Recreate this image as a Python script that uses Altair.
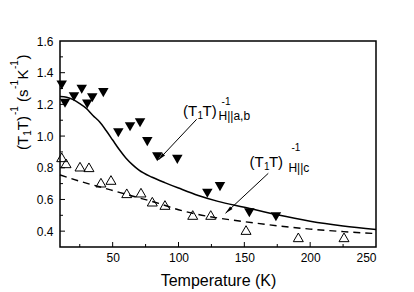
import altair as alt
import pandas as pd

# ---------------- data ----------------
ab_T = [11.3, 13.8, 20.6, 26.5, 30.7, 34.5, 42.9, 54.3, 63.2, 70.8, 76.3, 83.9, 99.1, 121.9, 131.5, 153.8, 174.0]
ab_val = [1.322, 1.207, 1.248, 1.295, 1.202, 1.242, 1.274, 1.021, 1.059, 1.084, 0.965, 0.870, 0.853, 0.639, 0.681, 0.516, 0.491]

c_T = [11.3, 14.6, 25.2, 32.0, 41.1, 48.7, 60.7, 71.5, 80.1, 89.7, 110.8, 124.5, 151.3, 191.0, 225.7]
c_val = [0.866, 0.828, 0.807, 0.803, 0.706, 0.723, 0.639, 0.643, 0.586, 0.565, 0.502, 0.502, 0.407, 0.361, 0.361]

fit_ab_T = [10, 15, 20, 25, 30, 35, 40, 45, 50, 55, 60, 65, 70, 80, 90, 100, 115, 130, 150, 175, 200, 225, 250]
fit_ab_val = [1.25, 1.245, 1.23, 1.205, 1.175, 1.13, 1.09, 1.035, 0.975, 0.915, 0.862, 0.82, 0.785, 0.74, 0.705, 0.672, 0.625, 0.588, 0.551, 0.503, 0.463, 0.433, 0.41]

fit_c_T = [10, 25, 40, 55, 70, 85, 100, 115, 130, 150, 175, 200, 225, 250]
fit_c_val = [0.755, 0.715, 0.68, 0.645, 0.61, 0.575, 0.535, 0.505, 0.483, 0.46, 0.434, 0.413, 0.397, 0.385]

x_label_values = [50, 100, 150, 200, 250]
y_label_values = [0.4, 0.6, 0.8, 1.0, 1.2, 1.4, 1.6]
x_major_ticks = [50, 100, 150, 200]
x_minor_ticks = [25, 75, 125, 175, 225]
y_major_ticks = [0.4, 0.6, 0.8, 1.0, 1.2, 1.4]
y_minor_ticks = [0.5, 0.7, 0.9, 1.1, 1.3, 1.5]

# annotation text pieces (data coordinates)
ann_text = ["(T", "1", "T)", "-1", "H||a,b", "(T", "1", "T)", "-1", "H||c"]
ann_x = [103.4, 114.4, 118.2, 132.7, 130.4, 153.9, 164.9, 168.7, 185.8, 183.5]
ann_y = [1.127, 1.108, 1.127, 1.196, 1.101, 0.805, 0.786, 0.805, 0.903, 0.776]
ann_fs = [15, 10, 15, 10, 12, 15, 10, 15, 10, 12]

# arrows (data coordinates)
arr_x1 = [113.8, 168.2]
arr_y1 = [1.106, 0.765]
arr_x2 = [84.7, 135.7]
arr_y2 = [0.849, 0.513]
head_x = [86.7, 137.9]
head_y = [0.867, 0.530]
head_ang = [223.3, 226.3]

# y title pieces
ytitle_text = ["(T", "1", "T)", "-1", "(s", "-1", "K", "-1", ")"]
ytitle_fs = [15, 10, 15, 10, 15, 10, 15, 10, 15]
ytitle_kind = ["m", "sub", "m", "sup", "m", "sup", "m", "sup", "m"]
ytitle_pos = [109, 94.8, 89.2, 74, 60.9, 47.9, 38.5, 28, 18.6]

FONT = "Liberation Sans"
W, H = 316, 206

xs = alt.Scale(domain=[10, 250], nice=False, zero=False)
ys = alt.Scale(domain=[0.3, 1.6], nice=False, zero=False)

x_axis = alt.Axis(values=x_label_values, tickSize=0, domain=False, grid=False,
                  labelFont=FONT, labelFontSize=12, labelColor="black", labelPadding=5,
                  title="Temperature (K)", titleFont=FONT, titleFontSize=16,
                  titleFontWeight="normal", titleColor="black",
                  titleY=38, titleBaseline="alphabetic")
y_axis = alt.Axis(values=y_label_values, tickSize=0, domain=False, grid=False,
                  labelFont=FONT, labelFontSize=12, labelColor="black", labelPadding=7,
                  format=".1f", title=None)


def X(field):
    return alt.X(f"{field}:Q", scale=xs, axis=x_axis)


def Y(field):
    return alt.Y(f"{field}:Q", scale=ys, axis=y_axis)


df_ab = pd.DataFrame({"T": ab_T, "v": ab_val})
df_c = pd.DataFrame({"T": c_T, "v": c_val})
df_fab = pd.DataFrame({"T": fit_ab_T, "v": fit_ab_val})
df_fc = pd.DataFrame({"T": fit_c_T, "v": fit_c_val})

fit_ab = alt.Chart(df_fab).mark_line(color="black", strokeWidth=1.5, interpolate="monotone").encode(
    x=X("T"), y=Y("v"))
fit_c = alt.Chart(df_fc).mark_line(color="black", strokeWidth=1.4, strokeDash=[7, 5],
                                   interpolate="monotone").encode(x=X("T"), y=Y("v"))
pts_ab = alt.Chart(df_ab).mark_point(shape="triangle-down", filled=True, color="black",
                                     size=110, opacity=1).encode(x=X("T"), y=Y("v"))
pts_c = alt.Chart(df_c).mark_point(shape="triangle-up", filled=False, color="black",
                                   size=100, strokeWidth=1, opacity=1).encode(x=X("T"), y=Y("v"))

df_ann = pd.DataFrame({"x": ann_x, "y": ann_y, "t": ann_text, "fs": ann_fs})
ann = alt.Chart(df_ann).mark_text(font=FONT, color="black", align="left",
                                  baseline="alphabetic").encode(
    x=X("x"), y=Y("y"), text="t:N", size=alt.Size("fs:Q", scale=None, legend=None))

df_arr = pd.DataFrame({"x1": arr_x1, "y1": arr_y1, "x2": arr_x2, "y2": arr_y2})
arrows = alt.Chart(df_arr).mark_rule(color="black", strokeWidth=1).encode(
    x=X("x1"), y=Y("y1"), x2="x2:Q", y2="y2:Q")
df_head = pd.DataFrame({"x": head_x, "y": head_y, "a": head_ang})
heads = alt.Chart(df_head).mark_point(shape="M0,-1L-0.45,1L0.45,1Z", filled=True, color="black",
                                      size=64, opacity=1).encode(
    x=X("x"), y=Y("y"), angle=alt.Angle("a:Q", scale=None))

# inward ticks
tx_major = alt.Chart(pd.DataFrame({"x": x_major_ticks})).mark_rule(color="black", strokeWidth=1).encode(
    x=X("x"), y=alt.value(H), y2=alt.value(H - 5))
tx_minor = alt.Chart(pd.DataFrame({"x": x_minor_ticks})).mark_rule(color="black", strokeWidth=1).encode(
    x=X("x"), y=alt.value(H), y2=alt.value(H - 3))
ty_major = alt.Chart(pd.DataFrame({"y": y_major_ticks})).mark_rule(color="black", strokeWidth=1).encode(
    y=Y("y"), x=alt.value(0), x2=alt.value(5))
ty_minor = alt.Chart(pd.DataFrame({"y": y_minor_ticks})).mark_rule(color="black", strokeWidth=1).encode(
    y=Y("y"), x=alt.value(0), x2=alt.value(3))

# y-axis title pieces (rotated)
ytitle_layers = []
for t, fs, kind, pos in zip(ytitle_text, ytitle_fs, ytitle_kind, ytitle_pos):
    bx = {"m": -32, "sub": -29, "sup": -42}[kind]
    ytitle_layers.append(
        alt.Chart(pd.DataFrame({"t": [t]})).mark_text(
            font=FONT, fontSize=fs, color="black", align="left", baseline="alphabetic", angle=270
        ).encode(x=alt.value(bx), y=alt.value(pos), text="t:N")
    )

chart = alt.layer(
    tx_major, tx_minor, ty_major, ty_minor,
    fit_ab, fit_c, pts_c, pts_ab, arrows, heads, ann, *ytitle_layers
).properties(
    width=W, height=H,
    padding={"left": 52, "top": 33, "right": 30, "bottom": 45},
    autosize=alt.AutoSizeParams(type="none"),
).configure_view(stroke="black", strokeWidth=1.5)

chart.save("out.html", embed_options={"renderer": "svg", "actions": False})
